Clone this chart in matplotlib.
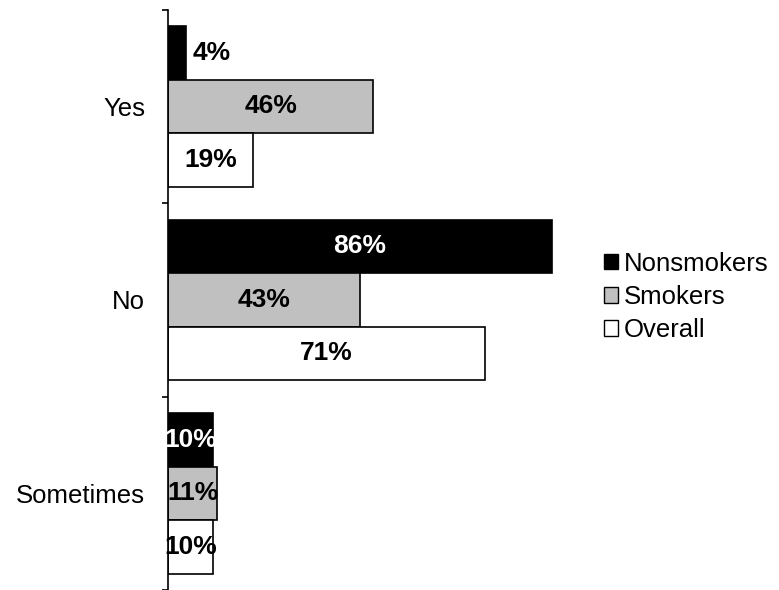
import matplotlib
matplotlib.use("Agg")
import matplotlib.pyplot as plt
import numpy as np
from matplotlib.patches import Patch

categories = ["Yes", "No", "Sometimes"]
series_names = ["Nonsmokers", "Smokers", "Overall"]
nonsmokers = [4, 86, 10]
smokers = [46, 43, 11]
overall = [19, 71, 10]

values = [nonsmokers, smokers, overall]
face_colors = ["#000000", "#c0c0c0", "#ffffff"]
label_colors = ["#ffffff", "#000000", "#000000"]

plt.rcParams['font.family'] = ['Liberation Sans', 'DejaVu Sans']

fig = plt.figure(figsize=(7.79, 5.90), dpi=100)
ax = fig.add_axes([168/779, 0.0, 446.5/779, 1 - 9.75/590])

y = np.arange(len(categories))
h = 0.277
offsets = [-h, 0, h]

for vals, off, fc, lc in zip(values, offsets, face_colors, label_colors):
    bars = ax.barh(y + off, vals, height=h, color=fc, edgecolor="black", linewidth=1.2)
    for b, v in zip(bars, vals):
        yc = b.get_y() + b.get_height() / 2
        if v < 5:
            ax.annotate(f"{v}%", xy=(v, yc), xytext=(7, 0), textcoords="offset pixels",
                        ha="left", va="center", fontsize=19, fontweight="bold", color="black")
        else:
            ax.text(v / 2, yc, f"{v}%", ha="center", va="center",
                    fontsize=19, fontweight="bold", color=lc)

ax.set_xlim(0, 100)
ax.set_ylim(len(categories) - 0.5, -0.5)
ax.set_yticks(y)
ax.set_yticklabels(categories, fontsize=18.5)
ax.tick_params(axis="y", which="major", length=0, pad=16.5)
ax.set_yticks(np.arange(len(categories) + 1) - 0.5, minor=True)
ax.tick_params(axis="y", which="minor", length=4.5, width=1.2, direction="out")
ax.set_xticks([])
for s in ["top", "right", "bottom"]:
    ax.spines[s].set_visible(False)
ax.spines["left"].set_linewidth(1.2)

handles = [Patch(facecolor=fc, edgecolor="black", linewidth=1.0) for fc in face_colors]
fig.legend(handles, series_names, loc="center left", bbox_to_anchor=(599/779, 1 - 297/590),
           frameon=False, fontsize=18.5, handlelength=0.55, handleheight=0.55,
           handletextpad=0.2, labelspacing=0.36, borderpad=0.2, borderaxespad=0)

fig.savefig("out.png", dpi=100)
